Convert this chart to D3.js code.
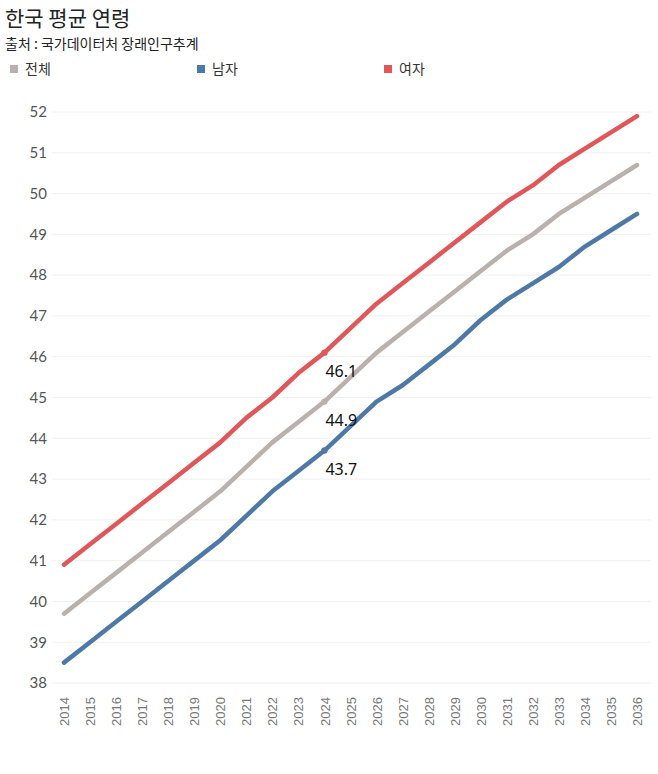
<!DOCTYPE html>
<html>
<head>
<meta charset="utf-8">
<script src="https://cdn.jsdelivr.net/npm/d3@7"></script>
<style>
  body { margin: 0; background: #fff; }
  svg { display: block; }
</style>
</head>
<body>
<div id="chart"></div>
<script>
// data
const years = d3.range(2014, 2037);
const totalAge = [39.7, 40.2, 40.7, 41.2, 41.7, 42.2, 42.7, 43.3, 43.9, 44.4, 44.9, 45.5,
                  46.1, 46.6, 47.1, 47.6, 48.1, 48.6, 49.0, 49.5, 49.9, 50.3, 50.7];
const maleAge = [38.5, 39.0, 39.5, 40.0, 40.5, 41.0, 41.5, 42.1, 42.7, 43.2, 43.7, 44.3,
                 44.9, 45.3, 45.8, 46.3, 46.9, 47.4, 47.8, 48.2, 48.7, 49.1, 49.5];
const femaleAge = [40.9, 41.4, 41.9, 42.4, 42.9, 43.4, 43.9, 44.5, 45.0, 45.6, 46.1, 46.7,
                   47.3, 47.8, 48.3, 48.8, 49.3, 49.8, 50.2, 50.7, 51.1, 51.5, 51.9];
const yTicks = d3.range(38, 53);
const markYear = 2024;

const series = [
    {name: "전체", values: totalAge, color: "#bab0ac"},
    {name: "남자", values: maleAge, color: "#4e79a7"},
    {name: "여자", values: femaleAge, color: "#e15759"},
];

const width = 658, height = 774;
const margin = {top: 112, right: 20, bottom: 91, left: 64};
const korFont = "'Noto Sans CJK KR', 'Noto Sans', sans-serif";

const svg = d3.select("#chart").append("svg")
    .attr("width", width)
    .attr("height", height);

// title + source
svg.append("text")
    .attr("x", 5).attr("y", 26)
    .style("font-family", korFont).style("font-size", "21px").style("fill", "#222")
    .text("한국 평균 연령");
svg.append("text")
    .attr("x", 5).attr("y", 49)
    .style("font-family", korFont).style("font-size", "14px").style("fill", "#222")
    .text("출처 : 국가데이터처 장래인구추계");

// legend
const legendX = [10, 197, 384];
const legend = svg.append("g").selectAll("g")
    .data(series).enter().append("g")
    .attr("transform", (d, i) => "translate(" + legendX[i] + ",65)");
legend.append("rect")
    .attr("width", 8).attr("height", 8)
    .attr("fill", d => d.color);
legend.append("text")
    .attr("x", 15).attr("y", 9)
    .style("font-family", korFont).style("font-size", "14px").style("fill", "#333")
    .text(d => d.name);

// scales
const x = d3.scaleLinear()
    .domain([2014, 2036])
    .range([margin.left, width - margin.right - 1]);
const y = d3.scaleLinear()
    .domain([38, 52])
    .range([height - margin.bottom, margin.top]);

// gridlines
svg.append("g").selectAll("line")
    .data(yTicks).enter().append("line")
    .attr("x1", 52).attr("x2", 651)
    .attr("y1", d => y(d)).attr("y2", d => y(d))
    .attr("stroke", "#f0f0f0").attr("stroke-width", 1);

// y axis labels
const yAxis = svg.append("g")
    .attr("transform", "translate(47,0)")
    .call(d3.axisLeft(y).tickValues(yTicks).tickSize(0).tickPadding(0));
yAxis.select(".domain").remove();
yAxis.selectAll("text")
    .style("font-family", "Lato, sans-serif").style("font-size", "15px").style("fill", "#555");

// x axis labels (rotated)
const xAxis = svg.append("g")
    .attr("transform", "translate(0,693)")
    .call(d3.axisBottom(x).tickValues(years).tickFormat(d3.format("d")).tickSize(0).tickPadding(0));
xAxis.select(".domain").remove();
xAxis.selectAll("text")
    .attr("transform", "rotate(-90)")
    .attr("x", -4).attr("y", 0).attr("dy", "0.35em")
    .attr("text-anchor", "end")
    .style("font-family", "'Liberation Sans', Arial, sans-serif").style("font-size", "13px").style("fill", "#777");

// lines
const line = d3.line()
    .x((d, i) => x(years[i]))
    .y(d => y(d));

svg.append("g").selectAll("path")
    .data(series).enter().append("path")
    .attr("d", d => line(d.values))
    .attr("fill", "none")
    .attr("stroke", d => d.color)
    .attr("stroke-width", 4.5)
    .attr("stroke-linecap", "round")
    .attr("stroke-linejoin", "round");

// highlighted 2024 points + labels
const mi = years.indexOf(markYear);
const marks = svg.append("g").selectAll("g")
    .data(series).enter().append("g");
marks.append("circle")
    .attr("cx", x(markYear))
    .attr("cy", d => y(d.values[mi]))
    .attr("r", 3.2)
    .attr("fill", d => d.color);
marks.append("text")
    .attr("x", x(markYear) + 1)
    .attr("y", d => y(d.values[mi]) + 24)
    .style("font-family", "'Noto Sans', sans-serif").style("font-size", "16px").style("fill", "#111")
    .text(d => d.values[mi].toFixed(1));
</script>
</body>
</html>
